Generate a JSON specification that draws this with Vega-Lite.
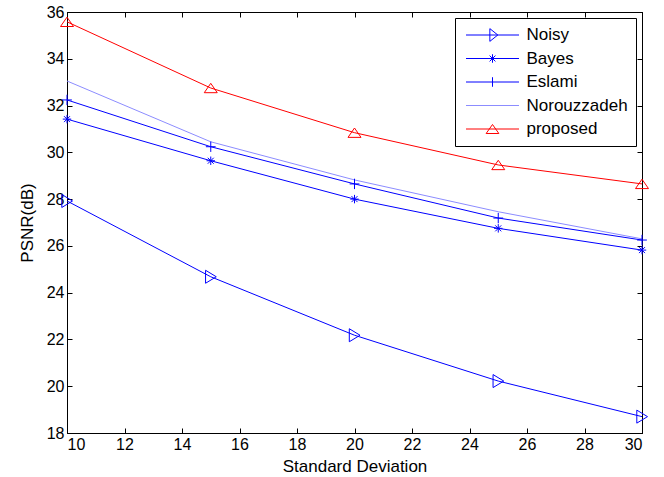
{
  "$schema": "https://vega.github.io/schema/vega-lite/v6.json",
  "width": 575,
  "height": 421,
  "autosize": {"type": "none"},
  "padding": {"left": 67, "top": 12, "right": 22, "bottom": 44},
  "background": "white",
  "config": {
    "font": "Liberation Sans",
    "view": {"stroke": "black", "strokeWidth": 1},
    "axis": {
      "grid": false,
      "domainColor": "black",
      "tickColor": "black",
      "tickSize": -5,
      "labelColor": "black",
      "labelFontSize": 16,
      "labelFont": "Liberation Sans",
      "titleFont": "Liberation Sans",
      "titleFontSize": 17,
      "titleFontWeight": "normal",
      "titleColor": "black",
      "labelPadding": 8
    },
    "legend": {
      "title": null,
      "orient": "top-right",
      "offset": 6,
      "strokeColor": "black",
      "fillColor": "white",
      "padding": 8,
      "symbolSize": 2809,
      "symbolStrokeWidth": 1,
      "symbolFillColor": "transparent",
      "symbolOpacity": 1,
      "symbolOffset": 2.5,
      "clipHeight": 18,
      "labelFontSize": 17,
      "labelFont": "Liberation Sans",
      "labelColor": "black",
      "labelOffset": 7,
      "rowPadding": 5.5
    }
  },
  "data": {
    "values": [
      {"series": "Noisy", "sd": 10, "psnr": 27.92},
      {"series": "Noisy", "sd": 15, "psnr": 24.68},
      {"series": "Noisy", "sd": 20, "psnr": 22.18},
      {"series": "Noisy", "sd": 25, "psnr": 20.22},
      {"series": "Noisy", "sd": 30, "psnr": 18.7},
      {"series": "Bayes", "sd": 10, "psnr": 31.42},
      {"series": "Bayes", "sd": 15, "psnr": 29.64},
      {"series": "Bayes", "sd": 20, "psnr": 28.0},
      {"series": "Bayes", "sd": 25, "psnr": 26.75},
      {"series": "Bayes", "sd": 30, "psnr": 25.82},
      {"series": "Eslami", "sd": 10, "psnr": 32.24},
      {"series": "Eslami", "sd": 15, "psnr": 30.24},
      {"series": "Eslami", "sd": 20, "psnr": 28.65},
      {"series": "Eslami", "sd": 25, "psnr": 27.19},
      {"series": "Eslami", "sd": 30, "psnr": 26.25},
      {"series": "Norouzzadeh", "sd": 10, "psnr": 33.05},
      {"series": "Norouzzadeh", "sd": 15, "psnr": 30.45},
      {"series": "Norouzzadeh", "sd": 20, "psnr": 28.82},
      {"series": "Norouzzadeh", "sd": 25, "psnr": 27.46},
      {"series": "Norouzzadeh", "sd": 30, "psnr": 26.3},
      {"series": "proposed", "sd": 10, "psnr": 35.58},
      {"series": "proposed", "sd": 15, "psnr": 32.75},
      {"series": "proposed", "sd": 20, "psnr": 30.84},
      {"series": "proposed", "sd": 25, "psnr": 29.46},
      {"series": "proposed", "sd": 30, "psnr": 28.65}
    ]
  },
  "layer": [
    {
      "mark": {"type": "line", "strokeWidth": 1, "clip": true},
      "encoding": {
        "x": {"field": "sd", "type": "quantitative", "scale": {"domain": [10, 30], "nice": false},
              "axis": {"orient": "bottom", "values": [10,12,14,16,18,20,22,24,26,28,30], "title": "Standard Deviation", "titlePadding": 6}},
        "y": {"field": "psnr", "type": "quantitative", "scale": {"domain": [18, 36], "nice": false, "zero": false},
              "axis": {"orient": "left", "values": [18,20,22,24,26,28,30,32,34,36], "title": "PSNR(dB)", "titlePadding": 10}},
        "color": {"field": "series", "type": "nominal",
                  "scale": {"domain": ["Noisy", "Bayes", "Eslami", "Norouzzadeh", "proposed"],
                            "range": ["#0000ff", "#0000ff", "#0000ff", "#8c8cff", "#ff0000"]},
                  "legend": null}
      }
    },
    {
      "mark": {"type": "point", "filled": false, "strokeWidth": 1, "size": 169, "opacity": 1},
      "encoding": {
        "x": {"field": "sd", "type": "quantitative", "axis": null},
        "y": {"field": "psnr", "type": "quantitative", "axis": null},
        "color": {"field": "series", "type": "nominal", "legend": null},
        "shape": {"field": "series", "type": "nominal",
                  "scale": {"domain": ["Noisy", "Bayes", "Eslami", "Norouzzadeh", "proposed"],
                            "range": ["M-0.8,-1L0.85,0L-0.8,1Z",
                                      "M-0.65,0L0.65,0M0,-0.65L0,0.65M-0.46,-0.46L0.46,0.46M-0.46,0.46L0.46,-0.46",
                                      "M-0.75,0L0.75,0M0,-0.8L0,0.8",
                                      "M0,0",
                                      "M-1,0.72L1,0.72L0,-0.72Z"]},
                  "legend": null}
      }
    },
    {
      "transform": [{"filter": "datum.sd < 0"}],
      "mark": {"type": "point", "filled": false, "strokeWidth": 1, "opacity": 1},
      "encoding": {
        "x": {"field": "sd", "type": "quantitative",
              "axis": {"orient": "top", "values": [10,12,14,16,18,20,22,24,26,28,30], "labels": false, "title": null}},
        "y": {"field": "psnr", "type": "quantitative",
              "axis": {"orient": "right", "values": [18,20,22,24,26,28,30,32,34,36], "labels": false, "title": null}},
        "stroke": {"field": "series", "type": "nominal",
                   "scale": {"domain": ["Noisy", "Bayes", "Eslami", "Norouzzadeh", "proposed"],
                             "range": ["#0000ff", "#0000ff", "#0000ff", "#8c8cff", "#ff0000"]},
                   "legend": {"title": null, "orient": "top-right", "offset": 6}},
        "shape": {"field": "series", "type": "nominal",
                  "scale": {"domain": ["Noisy", "Bayes", "Eslami", "Norouzzadeh", "proposed"],
                            "range": ["M-1,0L1,0M-0.1,-0.24L0.2,0L-0.1,0.24Z",
                                      "M-1,0L1,0M0,-0.16L0,0.16M-0.11,-0.11L0.11,0.11M-0.11,0.11L0.11,-0.11",
                                      "M-1,0L1,0M0,-0.18L0,0.18",
                                      "M-1,0L1,0",
                                      "M-1,0L1,0M-0.24,0.17L0.24,0.17L0,-0.17Z"]},
                  "legend": {"title": null, "orient": "top-right", "offset": 6}}
      }
    }
  ],
  "resolve": {
    "scale": {"shape": "independent", "stroke": "independent"},
    "axis": {"x": "independent", "y": "independent"}
  }
}
